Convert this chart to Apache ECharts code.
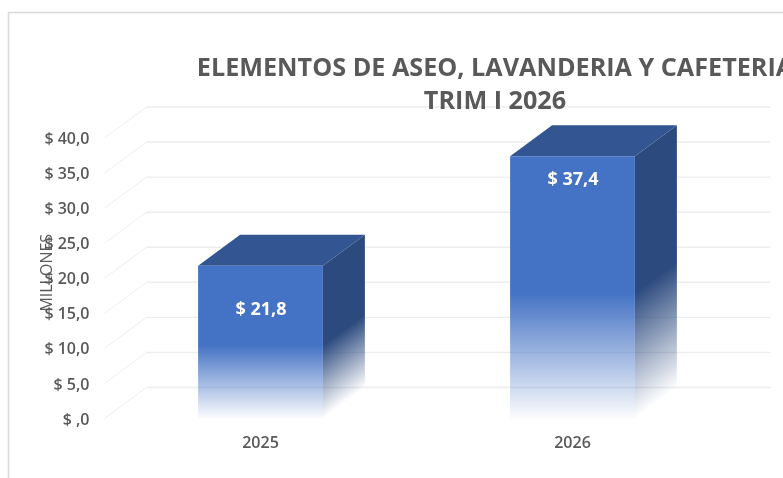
<!DOCTYPE html>
<html>
<head>
<meta charset="utf-8">
<title>Elementos de aseo</title>
<script src="https://cdn.jsdelivr.net/npm/echarts@6/dist/echarts.min.js"></script>
<style>
  html, body { margin: 0; padding: 0; background: #fff; }
  #main { width: 783px; height: 478px; }
</style>
</head>
<body>
<div id="main"></div>
<script>
var categories = ["2025", "2026"];
var values = [21.8, 37.4];
var valueLabels = ["$ 21,8", "$ 37,4"];
var tickValues = [0, 5, 10, 15, 20, 25, 30, 35, 40];

// excel pseudo 3d look
var depthX = 42;
var depthY = 31;
var labelDrop = [44.5, 24];
var barWidthRate = 0.4;
var fontName = '"Open Sans", sans-serif';
var gray = "#595959";

function fmtTick(v) {
  return "{t|" + (v === 0 ? "$ ,0" : "$ " + v + ",0") + "}";
}

function renderWall(params, api) {
  var y = api.coord([0, api.value(1)])[1];
  var left = params.coordSys.x;
  var right = left + params.coordSys.width;
  return {
    type: "group",
    silent: true,
    children: [
      {
        type: "line",
        shape: { x1: left, y1: y, x2: left + depthX, y2: y - depthY },
        style: { stroke: "#EFEFEF", lineWidth: 1 },
      },
      {
        type: "line",
        shape: { x1: left + depthX, y1: y - depthY, x2: right + depthX, y2: y - depthY },
        style: { stroke: "#EDEDED", lineWidth: 1.4 },
      },
    ],
  };
}

function renderBar(params, api) {
  var top = api.coord([api.value(0), api.value(1)]);
  var base = api.coord([api.value(0), 0]);
  var w = api.size([1, 0])[0] * barWidthRate;
  var x0 = top[0] - w / 2;
  var x1 = top[0] + w / 2;
  var yt = top[1];
  var yb = base[1];

  var frontFill = new echarts.graphic.LinearGradient(0, 0, 0, 1, [
    { offset: 0, color: "rgba(68,114,196,1)" },
    { offset: 0.52, color: "rgba(68,114,196,1)" },
    { offset: 1, color: "rgba(68,114,196,0.02)" },
  ]);

  // the side fades along the depth direction
  var len = Math.sqrt(depthX * depthX + depthY * depthY);
  var nx = depthY / len;
  var ny = depthX / len;
  var proj = (yb - yt) * ny;
  var sideFill = new echarts.graphic.LinearGradient(
    x1, yt, x1 + nx * proj, yt + ny * proj,
    [
      { offset: 0, color: "rgba(44,74,126,1)" },
      { offset: 0.52, color: "rgba(44,74,126,1)" },
      { offset: 1, color: "rgba(44,74,126,0)" },
    ],
    true
  );

  return {
    type: "group",
    children: [
      {
        type: "polygon",
        shape: { points: [[x1, yt], [x1 + depthX, yt - depthY], [x1 + depthX, yb - depthY], [x1, yb]] },
        style: { fill: sideFill },
      },
      {
        type: "polygon",
        shape: { points: [[x0, yt], [x0 + depthX, yt - depthY], [x1 + depthX, yt - depthY], [x1, yt]] },
        style: { fill: "#335592" },
      },
      {
        type: "rect",
        shape: { x: x0, y: yt, width: w, height: yb - yt },
        style: { fill: frontFill },
      },
      {
        type: "text",
        style: {
          text: valueLabels[params.dataIndex],
          x: top[0] + 0.5,
          y: yt + labelDrop[params.dataIndex],
          align: "center",
          verticalAlign: "middle",
          fill: "#fff",
          font: "bold 18px " + fontName,
        },
      },
    ],
  };
}

var chart = echarts.init(document.getElementById("main"), null, { renderer: "canvas" });
chart.setOption({
  animation: false,
  backgroundColor: "#fff",
  title: {
    text: "ELEMENTOS DE ASEO, LAVANDERIA Y CAFETERIA\nTRIM I 2026",
    left: 490,
    top: 47,
    textAlign: "center",
    textStyle: {
      fontFamily: fontName,
      fontWeight: "bold",
      fontSize: 25.2,
      lineHeight: 33,
      color: gray,
    },
  },
  graphic: [
    {
      type: "polyline",
      silent: true,
      shape: { points: [[8.5, 478], [8.5, 12.5], [783, 12.5]] },
      style: { stroke: "#D9D9D9", lineWidth: 1.5, fill: "none" },
    },
  ],
  grid: { left: 104.5, top: 138, width: 624, height: 280.5 },
  xAxis: {
    type: "category",
    data: categories,
    axisLine: { show: false },
    axisTick: { show: false },
    axisLabel: {
      margin: 17,
      color: gray,
      fontFamily: fontName,
      fontWeight: 600,
      fontSize: 16,
    },
  },
  yAxis: {
    type: "value",
    min: 0,
    max: 40,
    interval: 5,
    name: "MILLONES",
    nameLocation: "middle",
    nameGap: 49,
    nameMoveOverlap: false,
    nameTextStyle: {
      color: gray,
      fontFamily: fontName,
      fontSize: 16,
      padding: [0, 0, 0, 11],
    },
    axisLine: { show: false },
    axisTick: { show: false },
    splitLine: { show: false },
    axisLabel: {
      margin: 15,
      formatter: fmtTick,
      rich: {
        t: {
          color: gray,
          fontFamily: fontName,
          fontWeight: 600,
          fontSize: 16,
          padding: [3, 0, 0, 0],
        },
      },
    },
  },
  series: [
    {
      type: "custom",
      renderItem: renderWall,
      silent: true,
      data: tickValues.map(function (v) { return [0, v]; }),
      encode: { x: 0, y: 1 },
      z: 1,
    },
    {
      type: "custom",
      renderItem: renderBar,
      data: categories.map(function (c, i) { return [i, values[i]]; }),
      encode: { x: 0, y: 1 },
      z: 2,
    },
  ],
});
</script>
</body>
</html>
